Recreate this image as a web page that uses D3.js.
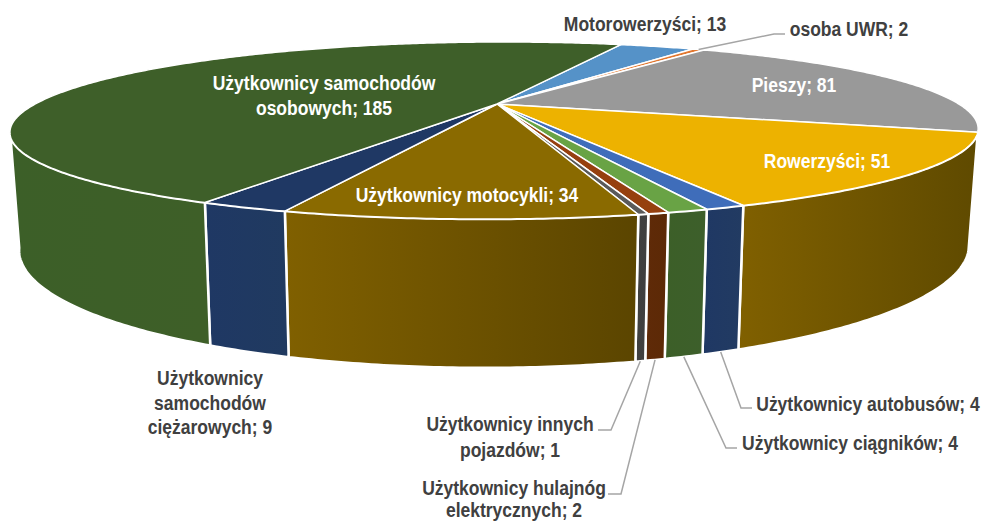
<!DOCTYPE html>
<html>
<head>
<meta charset="utf-8">
<script src="https://cdn.jsdelivr.net/npm/d3@7"></script>
<style>
  body { margin: 0; background: #fff; }
  text { font-family: "Liberation Sans", sans-serif; font-weight: bold; font-size: 20px; }
</style>
</head>
<body>
<div id="chart"></div>
<script>
/* DATA */
const categories = ["Motorowerzyści", "osoba UWR", "Pieszy", "Rowerzyści", "Użytkownicy autobusów", "Użytkownicy ciągników",
    "Użytkownicy hulajnóg elektrycznych", "Użytkownicy innych pojazdów", "Użytkownicy motocykli", "Użytkownicy samochodów ciężarowych", "Użytkownicy samochodów osobowych"];
const values = [13, 2, 81, 51, 4, 4, 2, 1, 34, 9, 185];

/* COLOURS */
const topColors = ["#5592c8", "#e2772f", "#999999", "#edb200", "#3f6dba", "#69a345", "#96400f", "#5a5a5a", "#8a6a00", "#1f3864", "#3e5f29"];
const wallLeft = ["#5592c8", "#e2772f", "#999999", "#806000", "#1f3864", "#3c5f28", "#5f2a08", "#3f3f3f", "#806000", "#1f3864", "#3c5f28"];
const wallRight = ["#5592c8", "#e2772f", "#999999", "#5f4a00", "#223b62", "#3d5f2b", "#5c2906", "#404040", "#5b4500", "#203a60", "#3e5f28"];

const width = 982;
const height = 522;

/* 3D PROJECTION - same perspective for both rims, only the plane changes */
const persp = 0.2994;
const skew = -9;
const topPlane = { x: 497, y: 104, a: 461.8, b: 80.6 };
const bottomPlane = { x: 497, y: 212, a: 453, b: 109.2 };

function project(plane, angle) {
    const u = Math.sin(angle);
    const v = -Math.cos(angle);
    const s = 1 / (1 - persp * v);
    return [plane.x + (plane.a * u + skew * v) * s, plane.y + plane.b * v * s];
}

function arcPoints(plane, a0, a1) {
    const n = Math.max(2, Math.ceil((a1 - a0) / 0.01));
    return d3.range(n + 1).map(i => project(plane, a0 + (a1 - a0) * i / n));
}

const rad = d => d * Math.PI / 180;
const pie = d3.pie().sort(null).startAngle(rad(19)).endAngle(rad(379));
const slices = pie(values);

// the part of the rim facing us
const wallFrom = slices[3].startAngle;
const wallTo = rad(252.6);

const line = d3.line();

const svg = d3.select("#chart")
    .append("svg")
    .attr("width", width)
    .attr("height", height);

const defs = svg.append("defs");

/* WALLS */
const walls = slices
    .map((d, i) => ({ i, a0: Math.max(d.startAngle, wallFrom), a1: Math.min(d.endAngle, wallTo) }))
    .filter(d => d.a0 < d.a1);

walls.forEach(d => {
    d.points = arcPoints(topPlane, d.a0, d.a1).concat(arcPoints(bottomPlane, d.a0, d.a1).reverse());
    const xs = d.points.map(p => p[0]);
    const grad = defs.append("linearGradient")
        .attr("id", "wall" + d.i)
        .attr("gradientUnits", "userSpaceOnUse")
        .attr("x1", d3.min(xs)).attr("x2", d3.max(xs))
        .attr("y1", 0).attr("y2", 0);
    // left to right in screen space
    grad.append("stop").attr("offset", 0).attr("stop-color", wallLeft[d.i]);
    grad.append("stop").attr("offset", 1).attr("stop-color", wallRight[d.i]);
});

svg.append("g").selectAll("path")
    .data(walls)
    .join("path")
    .attr("d", d => line(d.points) + "Z")
    .attr("fill", d => `url(#wall${d.i})`)
    .attr("stroke", "#fff")
    .attr("stroke-width", 2.5)
    .attr("stroke-linejoin", "round");

/* TOP */
svg.append("g").selectAll("path")
    .data(slices)
    .join("path")
    .attr("d", d => line([[topPlane.x, topPlane.y]].concat(arcPoints(topPlane, d.startAngle, d.endAngle))) + "Z")
    .attr("fill", (d, i) => topColors[i])
    .attr("stroke", "#fff")
    .attr("stroke-width", 1.5)
    .attr("stroke-linejoin", "round");

/* LEADER LINES - start on the rim of the slice */
const midAngle = i => (slices[i].startAngle + slices[i].endAngle) / 2;
const leaders = [
    { start: project(topPlane, midAngle(1)), bend: [[774, 34], [785, 34]] },
    { start: project(bottomPlane, midAngle(4)), bend: [[741, 408], [752, 408]] },
    { start: project(bottomPlane, midAngle(5)), bend: [[726, 448], [737, 448]] },
    { start: project(bottomPlane, midAngle(6)), bend: [[621, 494], [608, 494]] },
    { start: project(bottomPlane, midAngle(7)), bend: [[611, 430], [598, 430]] }
];

svg.append("g").selectAll("path")
    .data(leaders)
    .join("path")
    .attr("d", d => line([d.start].concat(d.bend)))
    .attr("fill", "none")
    .attr("stroke", "#a5a5a5")
    .attr("stroke-width", 1.5);

/* LABELS - the reference font is a narrow one, so squeeze horizontally */
const squeeze = 0.875;
const labelLayout = [
    { lines: ["Motorowerzyści; 13"], x: 645, y: [31], fill: "#404040" },
    { lines: ["osoba UWR; 2"], x: 849, y: [36], fill: "#404040" },
    { lines: ["Pieszy; 81"], x: 794, y: [92], fill: "#fff" },
    { lines: ["Rowerzyści; 51"], x: 827, y: [168], fill: "#fff" },
    { lines: ["Użytkownicy autobusów; 4"], x: 868, y: [411], fill: "#404040" },
    { lines: ["Użytkownicy ciągników; 4"], x: 850, y: [450], fill: "#404040" },
    { lines: ["Użytkownicy hulajnóg", "elektrycznych; 2"], x: 514, y: [495.5, 517.5], fill: "#404040" },
    { lines: ["Użytkownicy innych", "pojazdów; 1"], x: 510, y: [431.5, 457], fill: "#404040" },
    { lines: ["Użytkownicy motocykli; 34"], x: 467, y: [202], fill: "#fff" },
    { lines: ["Użytkownicy", "samochodów", "ciężarowych; 9"], x: 210, y: [385, 410, 434], fill: "#404040" },
    { lines: ["Użytkownicy samochodów", "osobowych; 185"], x: 324, y: [90, 115], fill: "#fff" }
];

const labels = svg.append("g").selectAll("text")
    .data(labelLayout)
    .join("text")
    .attr("text-anchor", "middle")
    .attr("transform", d => `translate(${d.x},0) scale(${squeeze},1)`)
    .attr("fill", d => d.fill);

labels.selectAll("tspan")
    .data(d => d.lines.map((t, i) => ({ t, y: d.y[i] })))
    .join("tspan")
    .attr("x", 0)
    .attr("y", d => d.y)
    .text(d => d.t);
</script>
</body>
</html>
